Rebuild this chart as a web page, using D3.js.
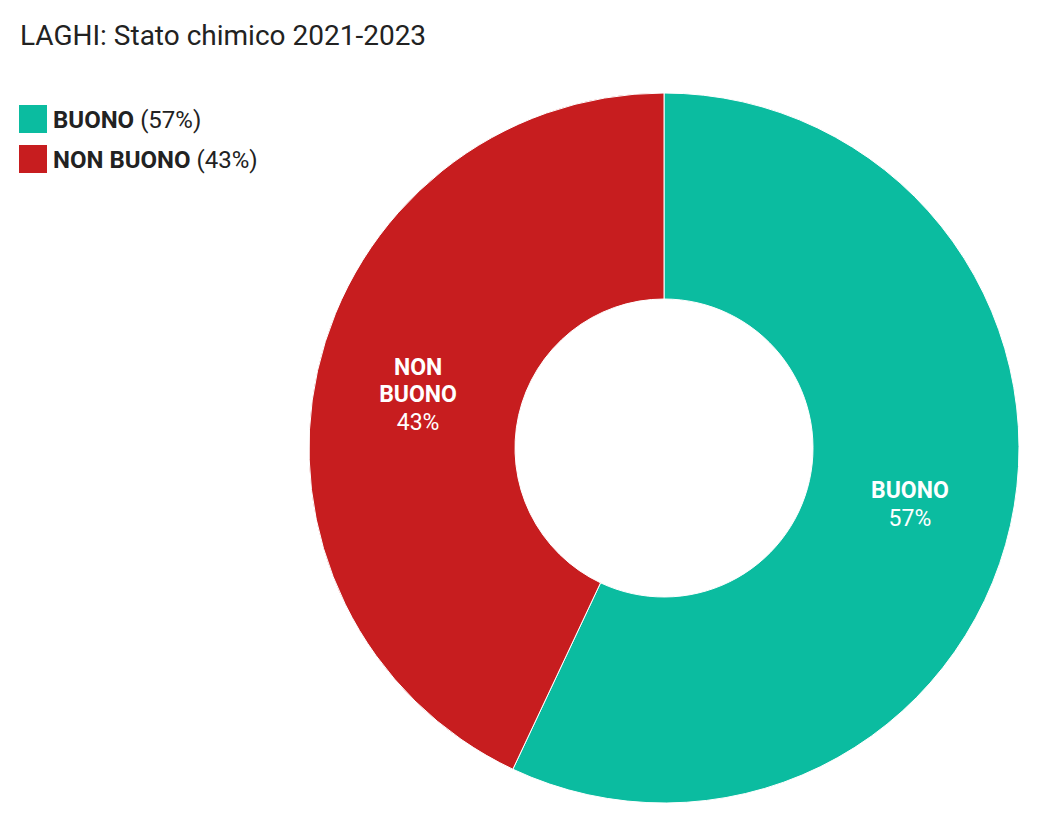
<!DOCTYPE html>
<html>
<head>
<meta charset="utf-8">
<script src="https://cdn.jsdelivr.net/npm/d3@7"></script>
<style>
  body { margin: 0; background: #fff; font-family: Roboto, sans-serif; }
</style>
</head>
<body>
<div id="chart"></div>
<script>
const width = 1039;
const height = 838;

// data
const title = "LAGHI: Stato chimico 2021-2023";
const categories = ["BUONO", "NON BUONO"];
const values = [57, 43];
const colors = ["#0bbca0", "#c71d1f"];
const labelLines = [["BUONO"], ["NON", "BUONO"]];

const cx = 664, cy = 448;
const outerR = 355, innerR = 149;

const svg = d3.select("#chart")
    .append("svg")
    .attr("width", width)
    .attr("height", height)
    .style("font-family", "Roboto, sans-serif");

svg.append("text")
    .attr("x", 20)
    .attr("y", 45)
    .attr("font-size", 28)
    .attr("fill", "#222")
    .text(title);

// legend
const legend = svg.append("g");
categories.forEach((c, i) => {
    const row = legend.append("g").attr("transform", `translate(19, ${105 + i * 40})`);
    row.append("rect")
        .attr("width", 28)
        .attr("height", 28)
        .attr("fill", colors[i]);
    const t = row.append("text")
        .attr("x", 34)
        .attr("y", 23)
        .attr("font-size", 24)
        .attr("fill", "#222");
    t.append("tspan").attr("font-weight", "bold").text(c);
    t.append("tspan").text(` (${values[i]}%)`);
});

const pie = d3.pie().sort(null).value(d => d);
const arc = d3.arc().innerRadius(innerR).outerRadius(outerR);
const arcs = pie(values);

const g = svg.append("g").attr("transform", `translate(${cx}, ${cy})`);

g.selectAll("path")
    .data(arcs)
    .join("path")
    .attr("d", arc)
    .attr("fill", (d, i) => colors[i])
    .attr("stroke", "#fff")
    .attr("stroke-width", 1);

const lineH = 27.5;
g.selectAll("g.label")
    .data(arcs)
    .join("g")
    .attr("class", "label")
    .each(function (d, i) {
        const [x, y] = arc.centroid(d);
        const lines = labelLines[i];
        const n = lines.length + 1;
        const top = y - (n - 1) * lineH / 2 + 9;
        const t = d3.select(this).append("text")
            .attr("text-anchor", "middle")
            .attr("font-size", 23)
            .attr("fill", "#fff");
        lines.forEach((l, k) => {
            t.append("tspan")
                .attr("x", x)
                .attr("y", top + k * lineH)
                .attr("font-weight", "bold")
                .text(l);
        });
        t.append("tspan")
            .attr("x", x)
            .attr("y", top + lines.length * lineH)
            .text(values[i] + "%");
    });
</script>
</body>
</html>
